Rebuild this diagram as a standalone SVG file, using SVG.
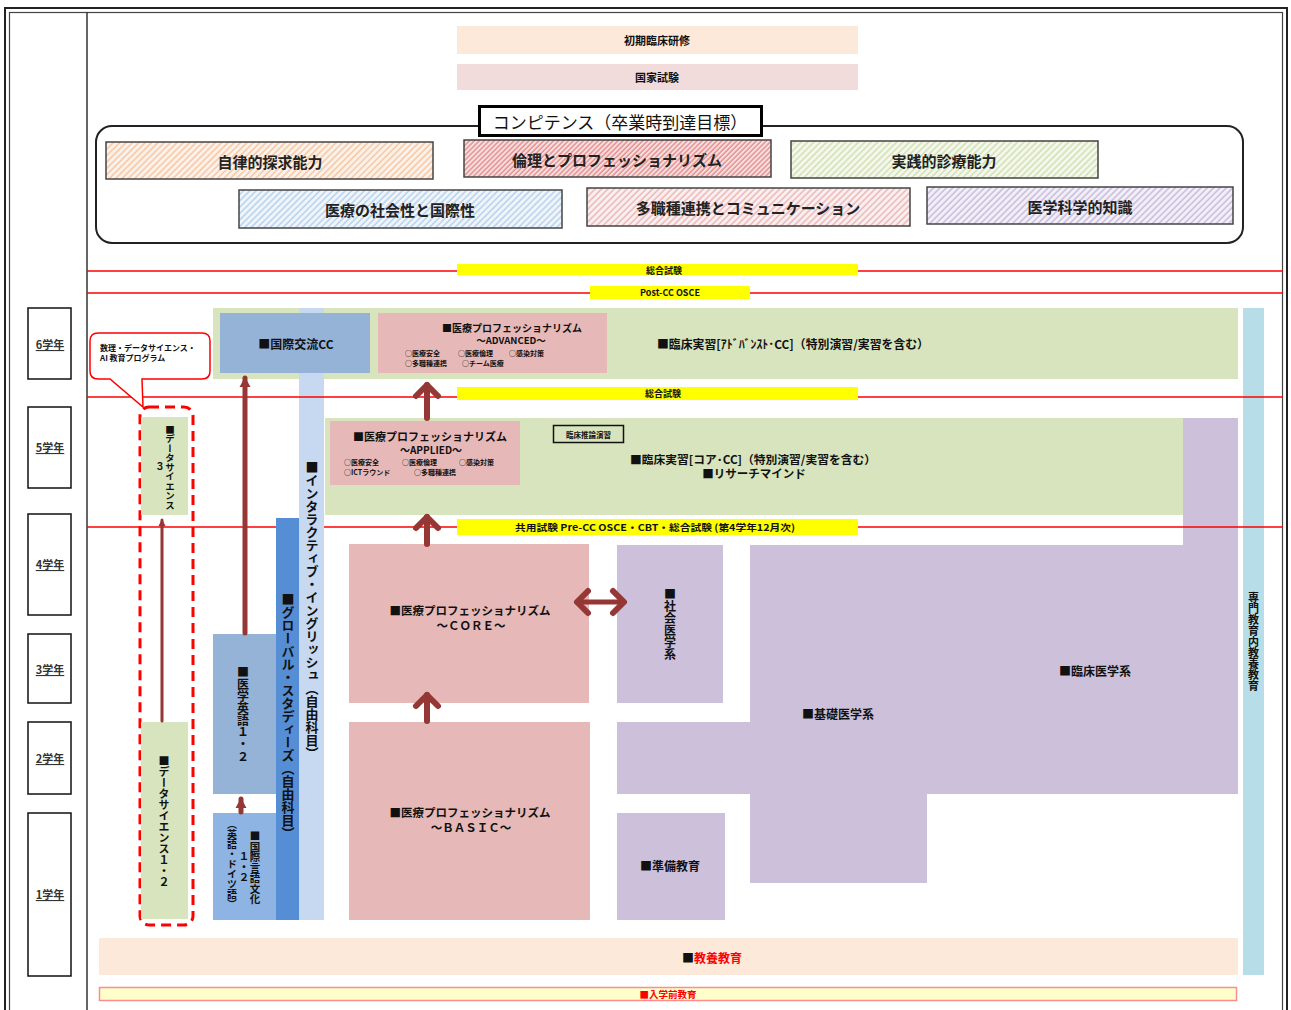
<svg xmlns="http://www.w3.org/2000/svg" width="1291" height="1010" viewBox="0 0 1291 1010">
<style>
text{font-family:"Noto Sans CJK JP","Noto Sans",sans-serif;fill:#111;font-weight:bold;dominant-baseline:central}
.c{text-anchor:middle}
.v{writing-mode:vertical-rl;text-anchor:middle}
.yr{font-size:11px;text-decoration:underline;text-anchor:middle;fill:#333}
.comp{font-size:15px;text-anchor:middle;fill:#222}
.hb{stroke:#444;stroke-width:1.5}
.red{stroke:#ff0000;stroke-width:1.5;fill:none}
.yel{fill:#ffff00}
.grn{fill:#d7e4bd}
.pink{fill:#e6b9b8}
.pur{fill:#ccc0da}
.sm{font-size:7px}
.arr{stroke:#953735;fill:none;stroke-linecap:round}
</style>
<defs>
<pattern id="pOr" patternUnits="userSpaceOnUse" width="4.5" height="4.5" patternTransform="rotate(45)"><rect width="4.5" height="4.5" fill="#fdf2e9"/><line x1="1" y1="0" x2="1" y2="4.5" stroke="#f5bb92" stroke-width="1.2"/></pattern>
<pattern id="pRd" patternUnits="userSpaceOnUse" width="3.5" height="3.5" patternTransform="rotate(45)"><rect width="3.5" height="3.5" fill="#f8e0e0"/><line x1="1" y1="0" x2="1" y2="3.5" stroke="#e07c7c" stroke-width="1.2"/></pattern>
<pattern id="pGn" patternUnits="userSpaceOnUse" width="4.5" height="4.5" patternTransform="rotate(45)"><rect width="4.5" height="4.5" fill="#f4f8ec"/><line x1="1" y1="0" x2="1" y2="4.5" stroke="#c8daa4" stroke-width="1.2"/></pattern>
<pattern id="pBl" patternUnits="userSpaceOnUse" width="4.5" height="4.5" patternTransform="rotate(45)"><rect width="4.5" height="4.5" fill="#eff5fb"/><line x1="1" y1="0" x2="1" y2="4.5" stroke="#a8c8e8" stroke-width="1.2"/></pattern>
<pattern id="pPk" patternUnits="userSpaceOnUse" width="4.5" height="4.5" patternTransform="rotate(45)"><rect width="4.5" height="4.5" fill="#fbefef"/><line x1="1" y1="0" x2="1" y2="4.5" stroke="#e8aaaa" stroke-width="1.2"/></pattern>
<pattern id="pPu" patternUnits="userSpaceOnUse" width="4.5" height="4.5" patternTransform="rotate(45)"><rect width="4.5" height="4.5" fill="#f2eff8"/><line x1="1" y1="0" x2="1" y2="4.5" stroke="#bcafd5" stroke-width="1.2"/></pattern>
<marker id="chev" markerUnits="userSpaceOnUse" markerWidth="30" markerHeight="30" refX="0" refY="0" orient="auto-start-reverse" overflow="visible"><path d="M-11,-11 L0,0 L-11,11" fill="none" stroke="#953735" stroke-width="6" stroke-linecap="round" stroke-linejoin="round"/></marker>
<marker id="tri" markerUnits="userSpaceOnUse" markerWidth="20" markerHeight="20" refX="0" refY="0" orient="auto" overflow="visible"><path d="M-9,-5.5 L1,0 L-9,5.5Z" fill="#953735"/></marker>
<marker id="triS" markerUnits="userSpaceOnUse" markerWidth="20" markerHeight="20" refX="0" refY="0" orient="auto" overflow="visible"><path d="M-6,-3.5 L1,0 L-6,3.5Z" fill="#953735"/></marker>
</defs>
<rect width="1291" height="1010" fill="#fff"/>
<g id="frame">
<rect x="5" y="8" width="1282" height="1020" fill="none" stroke="#222" stroke-width="2"/>
<rect x="9.5" y="12.5" width="1273" height="1010" fill="none" stroke="#444" stroke-width="1.2"/>
<line x1="87" y1="12" x2="87" y2="1010" stroke="#333" stroke-width="1.5"/>
</g>
<g id="top">
<rect x="457" y="26" width="401" height="28" fill="#fde9d9"/>
<text x="657" y="40" class="c" font-size="11">初期臨床研修</text>
<rect x="457" y="64" width="401" height="26" fill="#f2dcdb"/>
<text x="657" y="77" class="c" font-size="11">国家試験</text>
</g>
<g id="competence">
<rect x="96" y="126" width="1147" height="117" rx="16" fill="#fff" stroke="#222" stroke-width="2"/>
<rect x="479.5" y="106.5" width="282" height="29" fill="#fff" stroke="#000" stroke-width="3"/>
<text x="620" y="121" class="c" font-size="17" style="font-weight:normal">コンピテンス（卒業時到達目標）</text>
<g id="c1"><rect x="106" y="142" width="327" height="37" fill="url(#pOr)" class="hb"/><text x="270" y="161" class="comp">自律的探求能力</text></g>
<g id="c2"><rect x="464" y="140" width="307" height="37" fill="url(#pRd)" class="hb"/><text x="617" y="159" class="comp">倫理とプロフェッショナリズム</text></g>
<g id="c3"><rect x="791" y="141" width="307" height="37" fill="url(#pGn)" class="hb"/><text x="944" y="160" class="comp">実践的診療能力</text></g>
<g id="c4"><rect x="239" y="190" width="323" height="38" fill="url(#pBl)" class="hb"/><text x="400" y="209" class="comp">医療の社会性と国際性</text></g>
<g id="c5"><rect x="587" y="188" width="323" height="38" fill="url(#pPk)" class="hb"/><text x="748" y="207" class="comp">多職種連携とコミュニケーション</text></g>
<g id="c6"><rect x="927" y="187" width="306" height="37" fill="url(#pPu)" class="hb"/><text x="1080" y="206" class="comp">医学科学的知識</text></g>
</g>
<g id="years" fill="#fff" stroke="#111" stroke-width="1.5">
<rect x="28" y="308" width="43" height="71"/>
<rect x="28" y="407" width="43" height="81"/>
<rect x="28" y="514" width="43" height="101"/>
<rect x="28" y="634" width="43" height="69"/>
<rect x="28" y="722" width="43" height="72"/>
<rect x="28" y="813" width="43" height="163"/>
</g>
<g id="yearlabels">
<text x="50" y="344" class="yr">6学年</text>
<text x="50" y="447" class="yr">5学年</text>
<text x="50" y="564" class="yr">4学年</text>
<text x="50" y="669" class="yr">3学年</text>
<text x="50" y="758" class="yr">2学年</text>
<text x="50" y="894" class="yr">1学年</text>
</g>
<g id="year6">
<rect x="213" y="308" width="1025" height="71" class="grn"/>
<text x="793" y="343" class="c" font-size="12" textLength="272" lengthAdjust="spacingAndGlyphs">■臨床実習[ｱﾄﾞﾊﾞﾝｽﾄ･CC]（特別演習/実習を含む）</text>
</g>
<g id="purple-clinical">
<path d="M1183,418 H1238 V794 H927 V883 H750 V794 H617 V722 H750 V545 H1183 Z" class="pur"/>
<text x="1095" y="670" class="c" font-size="12">■臨床医学系</text>
<text x="838" y="713" class="c" font-size="12">■基礎医学系</text>
</g>
<g id="year5">
<rect x="325" y="418" width="858" height="97" class="grn"/>
<text x="753" y="459" class="c" font-size="11.5" textLength="246" lengthAdjust="spacingAndGlyphs">■臨床実習[コア･CC]（特別演習/実習を含む）</text>
<text x="754" y="473" class="c" font-size="11.5">■リサーチマインド</text>
</g>
<g id="rinsho-suiron">
<rect x="553.5" y="425.5" width="70" height="17" fill="none" stroke="#111" stroke-width="1.5"/>
<text x="588.5" y="434" class="c" font-size="7.5">臨床推論演習</text>
</g>
<g id="interactive">
<rect x="299" y="308" width="25" height="612" fill="#c6d9f1"/>
<text x="312" y="610" class="v" font-size="13">■インタラクティブ・イングリッシュ（自由科目）</text>
</g>
<g id="kokusai-cc">
<rect x="220" y="313" width="150" height="60" fill="#95b3d7"/>
<text x="296" y="343" class="c" font-size="12">■国際交流CC</text>
</g>
<g id="advanced">
<rect x="378" y="313" width="229" height="60" class="pink"/>
<text x="512" y="327" class="c" font-size="10">■医療プロフェッショナリズム</text>
<text x="511" y="340" class="c" font-size="9.5">～ADVANCED～</text>
<text x="405" y="353" class="sm">○医療安全</text>
<text x="458" y="353" class="sm">○医療倫理</text>
<text x="509" y="353" class="sm">○感染対策</text>
<text x="405" y="363" class="sm">○多職種連携</text>
<text x="462" y="363" class="sm">○チーム医療</text>
</g>
<g id="applied">
<rect x="330" y="421" width="190" height="64" class="pink"/>
<text x="430" y="436" class="c" font-size="11">■医療プロフェッショナリズム</text>
<text x="431" y="449" class="c" font-size="10">～APPLIED～</text>
<text x="344" y="462" class="sm">○医療安全</text>
<text x="402" y="462" class="sm">○医療倫理</text>
<text x="459" y="462" class="sm">○感染対策</text>
<text x="344" y="472" class="sm">○ICTラウンド</text>
<text x="414" y="472" class="sm">○多職種連携</text>
</g>
<g id="core">
<rect x="349" y="544" width="240" height="159" class="pink"/>
<text x="470" y="610" class="c" font-size="11.5">■医療プロフェッショナリズム</text>
<text x="471" y="625" class="c" font-size="11.5">～ＣＯＲＥ～</text>
</g>
<g id="basic">
<rect x="349" y="722" width="241" height="198" class="pink"/>
<text x="470" y="812" class="c" font-size="11.5">■医療プロフェッショナリズム</text>
<text x="471" y="827" class="c" font-size="11.5">～ＢＡＳＩＣ～</text>
</g>
<g id="shakai">
<rect x="617" y="545" width="106" height="158" class="pur"/>
<text x="670" y="624" class="v" font-size="12">■社会医学系</text>
</g>
<g id="junbi">
<rect x="617" y="813" width="108" height="107" class="pur"/>
<text x="670" y="865" class="c" font-size="12">■準備教育</text>
</g>
<g id="senmon-kyoyo">
<rect x="1243" y="308" width="21" height="667" fill="#b7dee8"/>
<text x="1253.5" y="642" class="v" font-size="11">専門教育内教養教育</text>
</g>
<g id="kyoyo">
<rect x="99" y="938" width="1139" height="37" fill="#fde9d9"/>
<text x="712" y="957" class="c" font-size="12">■<tspan fill="#ff0000">教養教育</tspan></text>
</g>
<g id="nyugaku">
<rect x="99.5" y="987.5" width="1137" height="13" fill="#ffffcc" stroke="#ff8c8c" stroke-width="1.5"/>
<text x="668" y="994" class="c" font-size="9.5" style="fill:#ff0000">■入学前教育</text>
</g>
<g id="igaku-eigo">
<rect x="213" y="634" width="63" height="160" fill="#95b3d7"/>
<text x="243" y="714" class="v" font-size="12">■医学英語１・２</text>
</g>
<g id="gengo-bunka">
<rect x="213" y="813" width="63" height="107" fill="#8db4e2"/>
<text x="255" y="868" class="v" font-size="10.5">■国際言語文化</text>
<text x="244" y="867" class="v" font-size="10.5">１・２</text>
<text x="232" y="864" class="v" font-size="10">（英語・ドイツ語）</text>
</g>
<g id="global">
<rect x="276" y="518" width="23" height="402" fill="#558ed5"/>
<text x="288" y="716" class="v" font-size="13">■グローバル・スタディーズ（自由科目）</text>
</g>
<g id="exam-lines">
<line x1="87" y1="271" x2="1283" y2="271" class="red"/>
<line x1="87" y1="293" x2="1283" y2="293" class="red"/>
<line x1="87" y1="397" x2="1283" y2="397" class="red"/>
<line x1="87" y1="527" x2="276" y2="527" class="red"/>
<line x1="324" y1="527" x2="1283" y2="527" class="red"/>
</g>
<g id="exams">
<rect x="457" y="264" width="401" height="11" class="yel"/>
<text x="664" y="270" class="c" font-size="9">総合試験</text>
<rect x="590" y="286" width="160" height="13" class="yel"/>
<text x="670" y="292.5" class="c" font-size="9">Post-CC OSCE</text>
<rect x="457" y="387" width="401" height="13" class="yel"/>
<text x="663" y="393.5" class="c" font-size="9">総合試験</text>
<rect x="457" y="519" width="401" height="16" class="yel"/>
<text x="655" y="527" class="c" font-size="9.5" textLength="280" lengthAdjust="spacingAndGlyphs">共用試験 Pre-CC OSCE・CBT・総合試験 (第4学年12月次)</text>
</g>
<g id="ds-program">
<path d="M98,333 H202 Q210,333 210,341 V371 Q210,379 202,379 H142 L143,407 L110,379 H98 Q90,379 90,371 V341 Q90,333 98,333 Z" fill="#fff" stroke="#ff0000" stroke-width="1.5"/>
<text x="100" y="347" font-size="8">数理・データサイエンス・</text>
<text x="100" y="357" font-size="8">AI  教育プログラム</text>
<rect x="140" y="407" width="53" height="518" rx="9" fill="none" stroke="#ff0000" stroke-width="3" stroke-dasharray="10 6"/>
</g>
<g id="ds3">
<rect x="141" y="417" width="47" height="98" class="grn"/>
<text x="170" y="467" class="v" font-size="9.5">■データサイエンス</text>
<text x="160" y="466" class="v" font-size="9.5">３</text>
</g>
<g id="ds12">
<rect x="141" y="722" width="47" height="197" class="grn"/>
<text x="164" y="821" class="v" font-size="11">■データサイエンス１・２</text>
</g>
<g id="connectors">
<line x1="162" y1="721" x2="162" y2="520" class="arr" stroke-width="3" marker-end="url(#triS)"/>
<line x1="245" y1="633" x2="245" y2="378" class="arr" stroke-width="5" marker-end="url(#tri)"/>
<line x1="241" y1="812" x2="241" y2="799" class="arr" stroke-width="5" marker-end="url(#tri)"/>
<line x1="427" y1="418" x2="427" y2="385" class="arr" stroke-width="6" marker-end="url(#chev)"/>
<line x1="427" y1="544" x2="427" y2="517" class="arr" stroke-width="6" marker-end="url(#chev)"/>
<line x1="427" y1="721" x2="427" y2="695" class="arr" stroke-width="6" marker-end="url(#chev)"/>
<line x1="577" y1="602" x2="624" y2="602" class="arr" stroke-width="5" marker-start="url(#chev)" marker-end="url(#chev)"/>
</g>
</svg>
